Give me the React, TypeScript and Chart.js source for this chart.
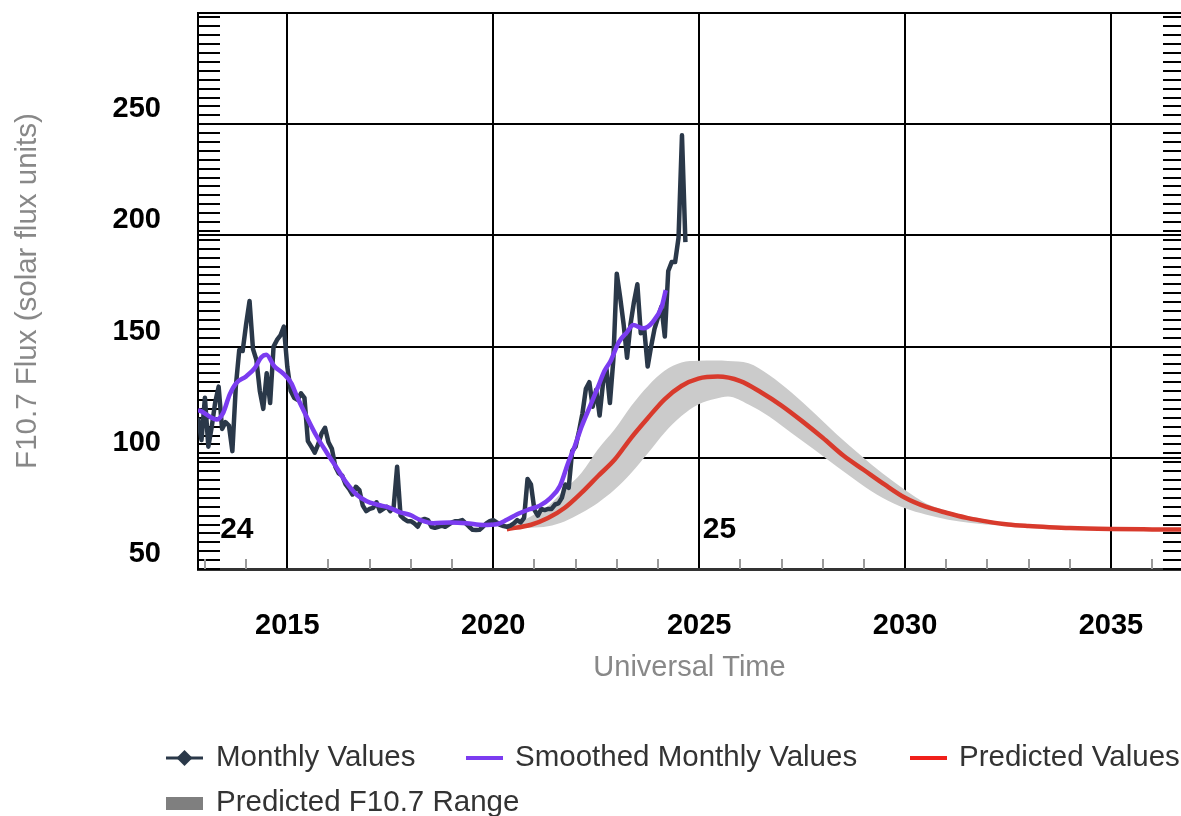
import React, { useEffect, useRef } from 'react';
import { Chart, registerables } from 'chart.js';

Chart.register(...registerables);

const FONT = '"Liberation Sans", Arial, Helvetica, sans-serif';

// Monthly observed F10.7 values, Nov 2012 .. Sep 2024
const monthlyStartYear = 2012;
const monthlyStartMonth = 10; // November (0-based)
const monthlyValues = [
  118, 108,
  127, 105, 114, 125, 132, 113, 116, 114.5, 103, 132, 148.5, 148,
  160, 170.5, 149, 144, 130, 122, 138, 124.6, 150, 153, 155, 159,
  141, 130, 127, 126, 129, 127, 107.5, 105, 102.3, 106, 111, 113.5,
  107, 104, 96, 93, 92, 88, 86, 83.5, 87, 85.5, 78.5, 76,
  77, 77.5, 80, 76, 77, 78, 76, 78, 96, 74, 72.5, 71.5,
  71.5, 70.5, 69, 72, 72.5, 72, 69, 68.5, 69, 69.5, 69, 70,
  71, 71.5, 71.5, 72, 70.5, 69, 67.6, 67.5, 67.6, 69, 70.5, 71.5,
  72, 71, 69.8, 69.3, 69, 69.5, 70.5, 72, 71, 73, 90.5, 88,
  76.6, 74, 77, 76.5, 77, 77, 79, 79.5, 82, 88, 86.5, 103,
  105, 112, 120, 131, 134, 123, 130.6, 119, 133.6, 140, 124.6, 144,
  182.8, 172, 160, 145, 160, 170, 178, 156, 158, 141, 150, 158,
  163, 168, 154.5, 184, 188, 188, 199, 245, 197,
];

// Smoothed monthly values (read points)
const smoothedYears = [
  2012.83, 2012.91, 2013.11, 2013.28, 2013.44, 2013.6, 2013.76, 2014.0, 2014.21, 2014.37, 2014.49,
  2014.69, 2014.89, 2015.1, 2015.23, 2015.47, 2015.71, 2015.96, 2016.2, 2016.44, 2016.68, 2016.93,
  2017.17, 2017.49, 2017.74, 2017.98, 2018.22, 2018.54, 2018.95, 2019.35, 2019.76, 2020.08, 2020.33,
  2020.57, 2020.89, 2021.13, 2021.38, 2021.62, 2021.82, 2021.98, 2022.15, 2022.35, 2022.55, 2022.7,
  2022.85, 2023.05, 2023.25, 2023.4, 2023.64, 2023.88, 2024.09, 2024.19,
];
const smoothedValues = [
  121.5, 120.9, 118.6, 117.2, 120.1, 128.4, 133.6, 136.6, 140.3, 145.2, 146.3,
  141.0, 138.1, 133.5, 127.8, 118.5, 109.8, 102.3, 95.5, 88.7, 83.5, 80.5,
  79, 77.5, 75.5, 74.3, 72.1, 70.6, 70.9, 70.6, 69.8, 70.1, 72.1,
  74.5, 76.9, 78.5, 81.8, 87.3, 97.8, 105.2, 114.2, 123.1, 132.1, 139,
  143.5, 152, 156.5, 159.7, 158.2, 161.2, 167.9, 175.4,
];

// Predicted values
const predictedYears = [
  2020.33, 2020.92, 2021.33, 2021.73, 2022.14, 2022.54, 2022.95, 2023.35, 2023.76, 2024.16, 2024.57,
  2024.98, 2025.45, 2026.0, 2026.5, 2027.0, 2027.5, 2028.0, 2028.5, 2029.0, 2029.5, 2030.0, 2030.5,
  2031.0, 2031.5, 2032.0, 2032.5, 2033.0, 2033.5, 2034.0, 2035.0, 2036.0, 2036.8,
];
const predictedValues = [
  67.9, 69.9, 72.9, 77.4, 84.2, 91.7, 99.2, 109, 118, 126.3, 132.3,
  135.6, 136.5, 134.5, 129.5, 123.5, 116.5, 109, 101, 94.5, 88, 82, 78,
  75.3, 73, 71.3, 70, 69.3, 68.8, 68.4, 68, 67.8, 67.7,
];

// Predicted range
const bandYears = [
  2020.35, 2020.9, 2021.33, 2021.73, 2022.14, 2022.54, 2022.95, 2023.35, 2023.76, 2024.16, 2024.57,
  2024.98, 2025.4, 2025.7, 2026.2, 2026.7, 2027.25, 2027.8, 2028.35, 2028.9, 2029.45, 2030.0, 2030.5,
  2031.05, 2031.6, 2032.3, 2033.2, 2034.0, 2035.0, 2035.8,
];
const bandUpper = [
  68.3, 73.5, 78.2, 85.7, 93.2, 103.7, 112.8, 123.3, 132.3, 139.1, 142.8,
  143.6, 143.7, 143.5, 142.5, 137.2, 129.2, 120, 110.4, 101.5, 93, 85.5, 79.6,
  76, 73.6, 71.2, 69.8, 68.8, 68.2, 67.9,
];
const bandLower = [
  67.7, 68.5, 69.2, 71.4, 75.2, 79.7, 85.7, 93.2, 102.2, 111.3, 118.8,
  124, 126.5, 127.6, 124, 118.6, 111, 103.6, 96, 88.6, 82, 77.3, 74.5,
  72.2, 70.7, 69.6, 68.8, 68.1, 67.7, 67.6,
];

const cycleLabels = ['24', '25'];
const cycleLabelYears = [2013.37, 2025.09];
const cycleLabelValues = [67.6, 67.6];

const xTickStep = 5;
const yTickStep = 50;
const legendLabels = ['Monthly Values', 'Smoothed Monthly Values', 'Predicted Values', 'Predicted F10.7 Range'];

const COL_MONTHLY = '#2a3849';
const COL_SMOOTH = '#7b3cf0';
const COL_PRED = '#d83a2c';
const COL_BAND = '#cbcbcb';
const COL_BAND_LEGEND = '#7f7f7f';

const minorTicksPlugin = {
  id: 'minorTicks',
  beforeDatasetsDraw(chart: any) {
    const { ctx, chartArea, scales } = chart;
    const y = scales.y;
    const x = scales.x;
    ctx.save();
    ctx.strokeStyle = '#000';
    ctx.lineWidth = 2;
    for (let v = 50; v <= 300; v += 4) {
      const py = Math.round(y.getPixelForValue(v));
      ctx.beginPath();
      ctx.moveTo(chartArea.left, py);
      ctx.lineTo(chartArea.left + 22, py);
      ctx.moveTo(chartArea.right - 18, py);
      ctx.lineTo(chartArea.right, py);
      ctx.stroke();
    }
    ctx.strokeStyle = '#9a9a9a';
    ctx.lineWidth = 2;
    for (let yr = 2013; yr <= 2036; yr++) {
      if (yr % 5 === 0) continue;
      const px = Math.round(x.getPixelForValue(yr));
      ctx.beginPath();
      ctx.moveTo(px, chartArea.bottom - 10);
      ctx.lineTo(px, chartArea.bottom);
      ctx.stroke();
    }
    ctx.restore();
  },
};

const cycleLabelPlugin = {
  id: 'cycleLabels',
  afterDatasetsDraw(chart: any) {
    const { ctx, scales } = chart;
    ctx.save();
    ctx.font = `bold 30px ${FONT}`;
    ctx.fillStyle = '#000';
    ctx.textAlign = 'left';
    ctx.textBaseline = 'middle';
    cycleLabels.forEach((t, i) => {
      ctx.fillText(t, scales.x.getPixelForValue(cycleLabelYears[i]), scales.y.getPixelForValue(cycleLabelValues[i]));
    });
    ctx.restore();
  },
};

const legendPlugin = {
  id: 'customLegend',
  afterDraw(chart: any) {
    const ctx = chart.ctx;
    ctx.save();
    ctx.font = `29.5px ${FONT}`;
    ctx.textBaseline = 'middle';
    ctx.textAlign = 'left';
    const row1 = 758;
    const row2 = 803;
    const starts = [166, 466, 910];
    // Monthly
    ctx.strokeStyle = COL_MONTHLY;
    ctx.lineWidth = 3;
    ctx.beginPath();
    ctx.moveTo(starts[0], row1);
    ctx.lineTo(starts[0] + 37, row1);
    ctx.stroke();
    ctx.fillStyle = COL_MONTHLY;
    const cx = starts[0] + 18.5;
    ctx.beginPath();
    ctx.moveTo(cx, row1 - 8);
    ctx.lineTo(cx + 8, row1);
    ctx.lineTo(cx, row1 + 8);
    ctx.lineTo(cx - 8, row1);
    ctx.closePath();
    ctx.fill();
    // Smoothed
    ctx.strokeStyle = COL_SMOOTH;
    ctx.lineWidth = 4;
    ctx.beginPath();
    ctx.moveTo(starts[1], row1);
    ctx.lineTo(starts[1] + 37, row1);
    ctx.stroke();
    // Predicted
    ctx.strokeStyle = '#f0201a';
    ctx.beginPath();
    ctx.moveTo(starts[2], row1);
    ctx.lineTo(starts[2] + 37, row1);
    ctx.stroke();
    // Range
    ctx.fillStyle = COL_BAND_LEGEND;
    ctx.fillRect(starts[0], row2 - 6, 37, 13);

    ctx.fillStyle = '#333';
    ctx.fillText(legendLabels[0], starts[0] + 50, row1);
    ctx.fillText(legendLabels[1], starts[1] + 49, row1);
    ctx.fillText(legendLabels[2], starts[2] + 49, row1);
    ctx.fillText(legendLabels[3], starts[0] + 50, row2);
    ctx.restore();
  },
};

export default function App() {
  const ref = useRef<HTMLCanvasElement | null>(null);
  useEffect(() => {
    if (!ref.current) return;
    const chart = new Chart(ref.current, {
      type: 'line',
      data: {
        datasets: [
          {
            label: 'Smoothed Monthly Values',
            data: smoothedYears.map((x, i) => ({ x, y: smoothedValues[i] })),
            borderColor: COL_SMOOTH,
            borderWidth: 4.5,
            pointRadius: 0,
            tension: 0.4,
            cubicInterpolationMode: 'monotone',
            fill: false,
          },
          {
            label: 'Monthly Values',
            data: monthlyValues.map((y, i) => ({ x: monthlyStartYear + (monthlyStartMonth + i) / 12, y })),
            borderColor: COL_MONTHLY,
            borderWidth: 4.5,
            borderJoinStyle: 'round',
            pointRadius: 0,
            tension: 0,
            fill: false,
          },
          {
            label: 'Predicted Values',
            data: predictedYears.map((x, i) => ({ x, y: predictedValues[i] })),
            borderColor: COL_PRED,
            borderWidth: 4.5,
            pointRadius: 0,
            cubicInterpolationMode: 'monotone',
            fill: false,
          },
          {
            label: 'Predicted F10.7 Range',
            data: bandYears.map((x, i) => ({ x, y: bandUpper[i] })),
            borderWidth: 0,
            borderColor: 'rgba(0,0,0,0)',
            backgroundColor: COL_BAND,
            pointRadius: 0,
            cubicInterpolationMode: 'monotone',
            fill: '+1',
          },
          {
            label: 'range-low',
            data: bandYears.map((x, i) => ({ x, y: bandLower[i] })),
            borderWidth: 0,
            borderColor: 'rgba(0,0,0,0)',
            pointRadius: 0,
            cubicInterpolationMode: 'monotone',
            fill: false,
          },
        ],
      },
      options: {
        responsive: false,
        animation: false,
        events: [],
        layout: { padding: { left: 0, right: 0, top: 13, bottom: 127 } },
        plugins: { legend: { display: false }, tooltip: { enabled: false } },
        scales: {
          x: {
            type: 'linear',
            min: 2012.832,
            max: 2036.7,
            afterFit: (s: any) => {
              s.height = 120;
              s.paddingLeft = 0;
              s.paddingRight = 0;
            },
            ticks: {
              stepSize: xTickStep,
              includeBounds: false,
              autoSkip: false,
              maxRotation: 0,
              padding: 40,
              color: '#000',
              font: { family: FONT, size: 29, weight: 'bold' },
              callback: (v: any) => String(v),
            },
            grid: { color: '#000', lineWidth: 2, drawTicks: false },
            border: { color: '#333', width: 3 },
            title: {
              display: true,
              text: 'Universal Time',
              color: '#888',
              font: { family: FONT, size: 29 },
              padding: { top: 0, bottom: 4 },
            },
          },
          y: {
            type: 'linear',
            min: 50,
            max: 300,
            afterFit: (s: any) => {
              s.width = 198;
              s.paddingTop = 0;
              s.paddingBottom = 0;
            },
            ticks: {
              stepSize: yTickStep,
              includeBounds: false,
              padding: 37,
              labelOffset: -15,
              color: '#000',
              font: { family: FONT, size: 29, weight: 'bold' },
              callback: (v: any) => (v >= 300 ? '' : String(v)),
            },
            grid: { color: '#000', lineWidth: 2, drawTicks: false },
            border: { color: '#000', width: 2 },
            title: {
              display: true,
              text: 'F10.7 Flux (solar flux units)',
              color: '#888',
              font: { family: FONT, size: 29.5 },
              padding: { top: 10, bottom: 0 },
            },
          },
        },
      } as any,
      plugins: [minorTicksPlugin, cycleLabelPlugin, legendPlugin],
    });
    return () => chart.destroy();
  }, []);
  return (
    <div style={{ position: 'fixed', left: 0, top: 0, width: 1181, height: 816, background: '#fff' }}>
      <canvas ref={ref} width={1181} height={816} />
    </div>
  );
}
